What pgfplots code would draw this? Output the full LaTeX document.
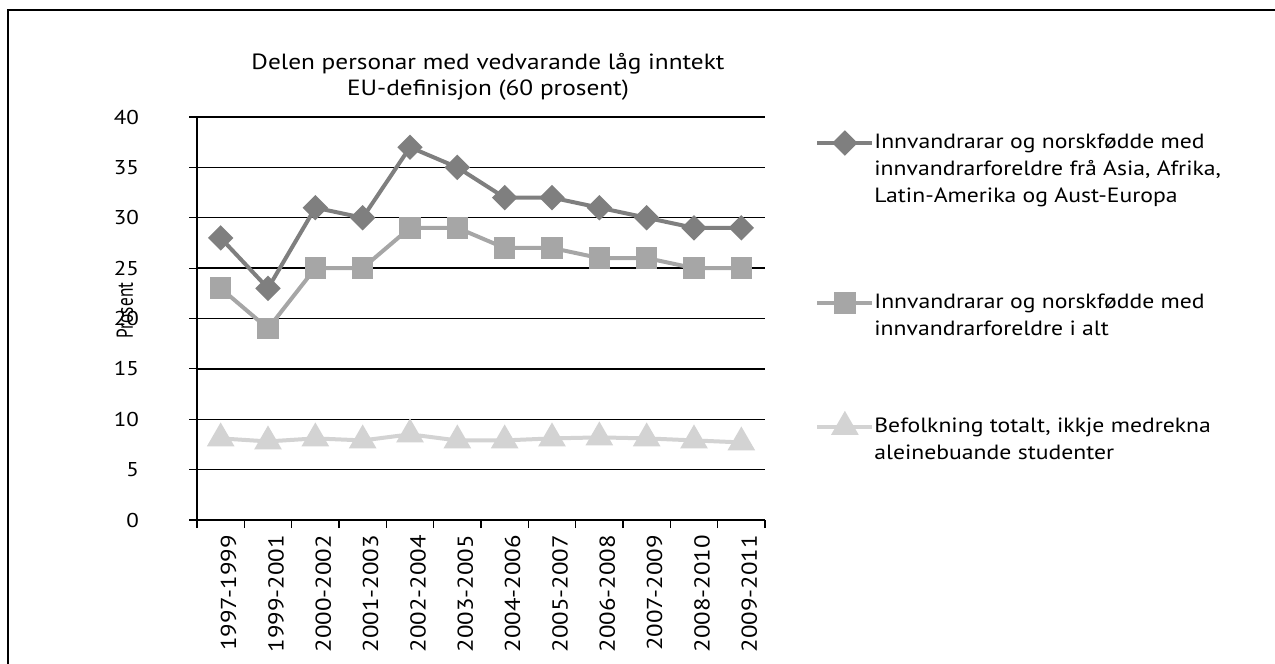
\documentclass[border=0pt]{standalone}
\usepackage{fontspec}
\setmainfont{PT Sans}[FakeStretch=1.15]
\newfontfamily\narrowfont{PT Sans}[FakeStretch=0.75]
\usepackage{pgfplots}
\pgfplotsset{compat=1.18}
\definecolor{serDark}{HTML}{7F7F7F}
\definecolor{serMid}{HTML}{A6A6A6}
\definecolor{serLight}{HTML}{D3D3D3}
% legend key with extra (invisible) depth below it, so each entry gets its own block of space
\pgfplotsset{
  leg line/.style={legend image code/.code={%
    \draw[mark repeat=2,mark phase=2,##1] plot coordinates {(0pt,0pt) (13.75pt,0pt) (27.5pt,0pt)};
    \path[draw=none,fill=none] (0pt,0pt) -- (0pt,-#1);}},
}

\begin{document}
\begin{tikzpicture}
\useasboundingbox (0,0) rectangle (637.5pt,-332pt);
% open frame (top and left edges)
\draw[line width=1pt] (4pt,-332pt) -- (4pt,-5pt) -- (637.5pt,-5pt);
\node[font=\fontsize{11}{13}\selectfont, anchor=base] at (244pt,-34.5pt) {Delen personar med vedvarande låg inntekt};
\node[font=\fontsize{11}{13}\selectfont, anchor=base] at (244pt,-47.5pt) {EU-definisjon (60 prosent)};
\begin{axis}[
  at={(98.5pt,-260pt)}, anchor=south west,
  scale only axis, width=284pt, height=201.5pt,
  xmin=0.5, xmax=12.5, ymin=0, ymax=40,
  ytick={0,5,...,40},
  xtick={1,...,12},
  xticklabels={1997-1999,1999-2001,2000-2002,2001-2003,2002-2004,2003-2005,2004-2006,2005-2007,2006-2008,2007-2009,2008-2010,2009-2011},
  minor xtick={0.5,1.5,...,12.5},
  axis x line*=bottom, axis y line*=left,
  axis line style={-, black, line width=0.6pt},
  tick align=outside, major tick length=4pt, minor tick length=4pt,
  major x tick style={draw=none},
  minor x tick style={black, line width=0.6pt},
  major y tick style={black, line width=0.6pt},
  ymajorgrids, grid style={black, line width=0.7pt},
  /pgf/number format/assume math mode=true,
  tick label style={font=\fontsize{10}{11}\selectfont},
  xticklabel style={rotate=90, anchor=east, yshift=-4pt, font=\fontsize{10.8}{11}\selectfont},
  yticklabel style={xshift=-21.5pt, anchor=east},
  ylabel={Prosent},
  ylabel style={font=\narrowfont\fontsize{11.5}{12}\selectfont, at={(axis description cs:-0.1268,0.52)}, anchor=center},
  legend cell align=left,
  legend style={at={(axis description cs:1.088,0.961)}, anchor=north west, draw=none, fill=none,
    inner sep=0pt, row sep=0pt, column sep=0pt, nodes={inner sep=0pt},
    font=\fontsize{10.3}{13.5}\selectfont},
]
\addplot[serDark, line width=2pt, mark=square*, mark size=3.5pt, mark options={rotate=45}, leg line=75.5pt] coordinates
  {(1,28) (2,23) (3,31) (4,30) (5,37) (6,35) (7,32) (8,32) (9,31) (10,30) (11,29) (12,29)};
\addlegendentry{\parbox[t]{175pt}{\raggedright Innvandrarar og norskfødde med\newline innvandrarforeldre frå Asia, Afrika,\newline Latin-Amerika og Aust-Europa}}
\addplot[serMid, line width=2pt, mark=square*, mark size=4.4pt, leg line=56pt] coordinates
  {(1,23) (2,19) (3,25) (4,25) (5,29) (6,29) (7,27) (8,27) (9,26) (10,26) (11,25) (12,25)};
\addlegendentry{\parbox[t]{175pt}{\raggedright Innvandrarar og norskfødde med\newline innvandrarforeldre i alt}}
\addplot[serLight, line width=2pt, mark=triangle*, mark size=6pt, leg line=0pt] coordinates
  {(1,8.1) (2,7.8) (3,8.1) (4,7.9) (5,8.5) (6,7.9) (7,7.9) (8,8.1) (9,8.2) (10,8.1) (11,7.9) (12,7.7)};
\addlegendentry{\parbox[t]{175pt}{\raggedright Befolkning totalt, ikkje medrekna\newline aleinebuande studenter}}
\end{axis}
\end{tikzpicture}
\end{document}
